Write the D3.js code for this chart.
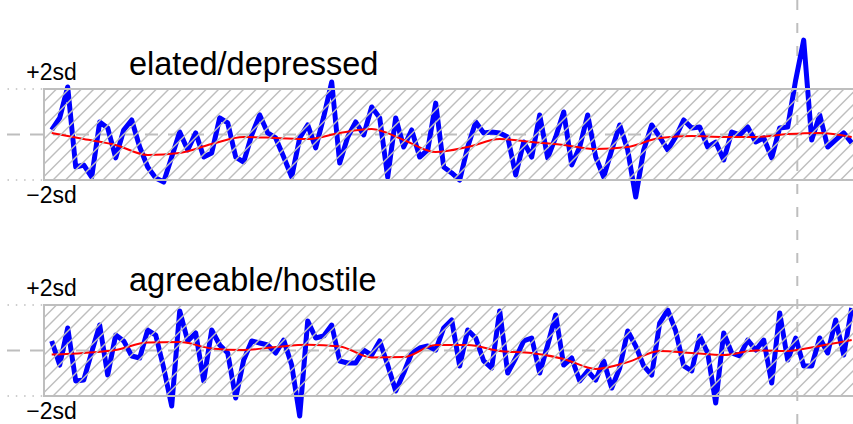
<!DOCTYPE html>
<html lang="en">
<head>
    <meta charset='utf-8'>
    <title>Mood series</title>
    <style>
        body{
            margin: 0;
            background: #fff;
        }
        text {
            font-family: "Liberation Sans", Arial, Helvetica, sans-serif;
            fill: #000;
        }
    </style>
</head>
<body>
<div id="chart"></div>
<script src='https://cdn.jsdelivr.net/npm/d3@7/dist/d3.min.js'></script>
<script>
    var width = 853, height = 424;

    // daily scores, in sd units
    var elatedValues = [
        0.20, 0.73, 2.09, -1.43, -1.34, -1.87, 0.55, 0.29, -1.03, 0.20,
        0.64, -0.55, -1.43, -1.91, -2.09, -0.99, 0.11, -0.68, 0.07, -0.99,
        -0.81, 0.73, 0.51, -0.99, -1.21, -0.02, 0.86, 0.07, -0.15, -0.99,
        -1.87, -0.15, 0.42, -0.59, 0.77, 2.31, -1.25, -0.11, 0.55, -0.02,
        1.21, 0.73, -1.87, 0.73, -0.55, 0.20, -0.99, -0.68, 1.38, -1.43,
        -1.69, -2.00, -0.55, 0.55, 0.07, 0.11, 0.07, -0.11, -1.78, -0.33,
        -0.99, 0.86, -1.03, -0.11, 0.99, -1.34, -0.55, 0.86, -0.99, -1.87,
        -0.68, 0.42, -0.68, -2.75, -0.68, 0.42, -0.11, -0.68, -0.11, 0.64,
        0.29, 0.33, -0.55, -0.33, -1.12, 0.11, -0.02, 0.33, -0.33, -0.15,
        -1.03, 0.29, 0.33, 2.40, 4.15, -0.24, 0.86, -0.55, -0.24, 0.07,
        -0.37
    ];
    var agreeableValues = [
        0.42, -0.64, 0.99, -1.34, -1.30, -0.07, 1.12, -1.08, 0.68, 0.42,
        -0.24, -0.33, 0.90, 0.68, -0.77, -2.44, 1.74, 0.42, 0.77, -1.34,
        0.90, 0.24, -0.11, -2.09, -0.42, 0.42, 0.33, 0.24, -0.11, 0.46,
        -0.64, -2.88, 1.30, 0.55, 0.64, 1.12, -0.46, -0.55, -0.55, 0.02,
        -0.20, 0.42, -0.64, -1.78, -0.99, -0.11, 0.11, 0.20, 0.02, 0.99,
        1.34, -0.68, 0.90, 0.55, -0.46, -0.77, 1.74, -0.99, -0.33, 0.42,
        0.55, -0.99, 0.24, 1.56, -0.64, -0.33, -1.34, -0.90, -1.30, -0.46,
        -1.65, -0.77, 0.86, 0.20, -0.68, -1.08, 1.21, 1.78, 0.86, -0.68,
        -0.90, 0.64, -0.11, -2.31, 0.77, -0.11, -0.24, 0.46, 0.02, 0.46,
        -1.43, 1.65, -0.42, 0.55, -0.68, -0.68, 0.55, -0.11, 1.34, -0.20,
        1.87
    ];

    // smoothed trend, read every 4th day
    var trendDays = [0, 4, 8, 12, 16, 20, 24, 28, 32, 36, 40, 44, 48, 52,
        56, 60, 64, 68, 72, 76, 80, 84, 88, 92, 96, 100];
    var elatedTrend = [0.07, -0.20, -0.46, -0.90, -0.81, -0.42, -0.11, -0.15,
        -0.20, 0.07, 0.24, -0.24, -0.77, -0.55, -0.20, -0.33, -0.46, -0.64,
        -0.55, -0.15, -0.07, -0.11, -0.11, 0.02, 0.07, -0.11];
    var agreeableTrend = [-0.18, -0.11, 0.02, 0.35, 0.37, 0.09, 0.02, 0.15,
        0.25, 0.18, -0.31, -0.29, 0.24, 0.24, -0.02, -0.11, -0.37, -0.81,
        -0.51, -0.02, -0.11, -0.20, 0.00, -0.02, 0.20, 0.46];

    var eventDay = 93.2;
    var tickLabels = ["+2sd", "\u22122sd"];
    var panelTitles = ["elated/depressed", "agreeable/hostile"];

    var days = d3.range(elatedValues.length);

    var panels = [
        {title: panelTitles[0], values: elatedValues, trend: elatedTrend, top: 89, bottom: 180},
        {title: panelTitles[1], values: agreeableValues, trend: agreeableTrend, top: 305, bottom: 396}
    ];

    var svg = d3.select("#chart").append("svg")
        .attr("width", width).attr("height", height);

    var x = d3.scaleLinear().domain([0, days.length - 1]).range([51.7, 851.7]);
    var panelLeft = 44, panelRight = 870;
    var grey = "#bebebe";

    // event marker behind everything
    svg.append("line")
        .attr("x1", x(eventDay)).attr("x2", x(eventDay))
        .attr("y1", 0).attr("y2", height)
        .attr("stroke", grey)
        .attr("stroke-width", 2)
        .attr("stroke-dasharray", "10,13");

    panels.forEach(function(p, k) {
        var y = d3.scaleLinear().domain([-2, 2]).range([p.bottom, p.top]);
        var g = svg.append("g");

        // reference lines
        g.append("line")
            .attr("x1", 7).attr("x2", width)
            .attr("y1", y(0)).attr("y2", y(0))
            .attr("stroke", grey).attr("stroke-width", 2)
            .attr("stroke-dasharray", "13,10");
        [2, -2].forEach(function(v) {
            g.append("line")
                .attr("x1", 7.5).attr("x2", panelLeft)
                .attr("y1", y(v)).attr("y2", y(v))
                .attr("stroke", grey).attr("stroke-width", 1.5)
                .attr("stroke-dasharray", "1.5,6.8");
        });

        var line = d3.line()
            .x(function(d, i) { return x(days[i]); })
            .y(function(d) { return y(d); });

        g.append("path")
            .datum(p.values)
            .attr("d", line)
            .attr("fill", "none")
            .attr("stroke", "#0000ff")
            .attr("stroke-width", 5)
            .attr("stroke-linejoin", "round");

        var trendLine = d3.line()
            .x(function(d, i) { return x(trendDays[i]); })
            .y(function(d) { return y(d); })
            .curve(d3.curveMonotoneX);

        g.append("path")
            .datum(p.trend)
            .attr("d", trendLine)
            .attr("fill", "none")
            .attr("stroke", "#ff0000")
            .attr("stroke-width", 2);

        // hatching drawn over the series
        var h = p.bottom - p.top;
        svg.append("clipPath").attr("id", "clip" + k)
            .append("rect")
            .attr("x", panelLeft).attr("y", p.top)
            .attr("width", panelRight - panelLeft).attr("height", h);
        g.append("g")
            .attr("clip-path", "url(#clip" + k + ")")
            .selectAll("line")
            .data(d3.range(panelLeft - h, panelRight, 12.5)).enter()
            .append("line")
            .attr("x1", function(d) { return d; })
            .attr("y1", p.bottom)
            .attr("x2", function(d) { return d + h; })
            .attr("y2", p.top)
            .attr("stroke", grey)
            .attr("stroke-width", 1.4);

        g.append("rect")
            .attr("x", panelLeft).attr("y", p.top)
            .attr("width", panelRight - panelLeft).attr("height", h)
            .attr("fill", "none")
            .attr("stroke", grey)
            .attr("stroke-width", 2);

        g.append("text")
            .attr("x", 51.5).attr("y", p.top - 9.5)
            .style("text-anchor", "middle")
            .style("font-size", "23px")
            .text(tickLabels[0]);
        g.append("text")
            .attr("x", 51.5).attr("y", p.bottom + 23)
            .style("text-anchor", "middle")
            .style("font-size", "23px")
            .text(tickLabels[1]);

        g.append("text")
            .attr("x", 129).attr("y", p.top - 14.5)
            .style("font-size", "32.5px")
            .text(p.title);
    });
</script>
</body>
</html>
